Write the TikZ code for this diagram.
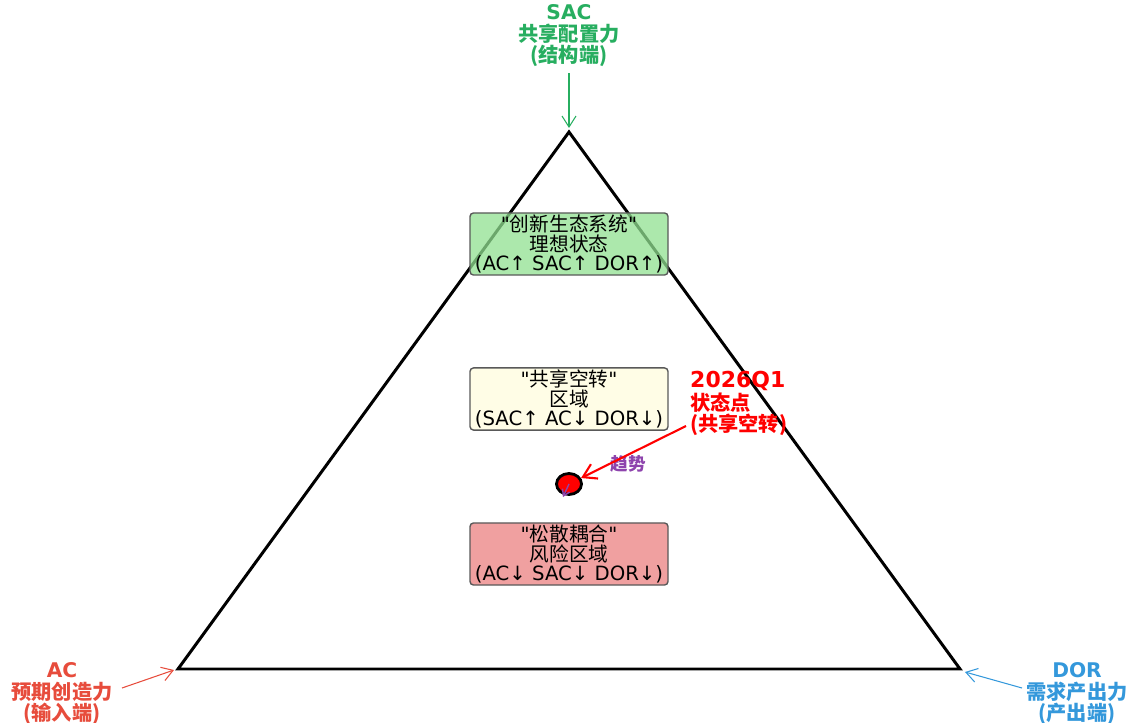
\documentclass[tikz,border=0pt]{standalone}
\usepackage{fontspec}
\setmainfont{DejaVu Sans}
\newfontfamily\cjk{Noto Sans CJK SC}
\usetikzlibrary{positioning,arrows.meta,shapes}
\definecolor{sacgreen}{HTML}{27AE60}
\definecolor{acred}{HTML}{E74C3C}
\definecolor{dorblue}{HTML}{3498DB}
\definecolor{trendpurple}{HTML}{8E44AD}
\definecolor{goodfill}{HTML}{90E090}
\definecolor{idlefill}{HTML}{FFFDE6}
\definecolor{riskfill}{HTML}{F0A0A0}
\tikzstyle{zonebox}=[rectangle, rounded corners=2pt, draw=black!65, thick, minimum width=39.6mm, minimum height=12mm, inner sep=1pt, text centered, align=center, font=\fontsize{11.2}{11.2}\selectfont]
\tikzstyle{endlabel}=[align=center, font=\bfseries\fontsize{11.5}{12.2}\selectfont]
\tikzstyle{endarrow}=[-{Straight Barb[length=2.2mm,width=2.8mm]}, semithick]
\tikzstyle{line}=[-, line width=1.7pt, line join=miter]

\begin{document}
\begin{tikzpicture}[x=0.2mm, y=-0.2mm]

    \useasboundingbox (0,0) rectangle (1133,723);

% corners of the triangle
    \coordinate (top) at (569,132);
    \coordinate (left) at (178,669);
    \coordinate (right) at (960,669);

    \draw[line] (top) -- (left) -- (right) -- cycle;

% end labels
    \node (sac) [endlabel, text=sacgreen] at (569,36) {SAC\\ \cjk 共享配置力\\ \cjk (结构端)};
    \node (ac) [endlabel, text=acred] at (62,694) {AC\\ \cjk 预期创造力\\ \cjk (输入端)};
    \node (dor) [endlabel, text=dorblue] at (1077,694) {DOR\\ \cjk 需求产出力\\ \cjk (产出端)};

    \coordinate (sactip) at (569,128);
    \coordinate (actip) at (174,670);
    \coordinate (dortip) at (965,672);
    \coordinate (acstart) at (122,688);
    \coordinate (dorstart) at (1022,688);

    \draw[endarrow, sacgreen] (sac.south) -- (sactip);
    \draw[endarrow, acred] (acstart) -- (actip);
    \draw[endarrow, dorblue] (dorstart) -- (dortip);

% zones
    \node (ideal) [zonebox, fill=goodfill, fill opacity=0.75, text opacity=1] at (569,244)
        {\textquotedbl{\cjk 创新生态系统}\textquotedbl\\ {\cjk 理想状态}\\ (AC↑ SAC↑ DOR↑)};
    \node (idle) [zonebox, fill=idlefill] at (569,399)
        {\textquotedbl{\cjk 共享空转}\textquotedbl\\ {\cjk 区域}\\ (SAC↑ AC↓ DOR↓)};
    \node (loose) [zonebox, fill=riskfill] at (569,554)
        {\textquotedbl{\cjk 松散耦合}\textquotedbl\\ {\cjk 风险区域}\\ (AC↓ SAC↓ DOR↓)};

% state point
    \node (pt) [ellipse, draw, line width=1.6pt, fill=red, minimum width=5mm, minimum height=4.2mm, inner sep=0pt] at (569,484) {};
    \node (q1) [anchor=north west, align=left, text=red, font=\bfseries\fontsize{11.5}{10}\selectfont] at (684,365)
        {{\fontsize{12.5}{10}\selectfont 2026Q1}\\ \cjk 状态点\\ \cjk (共享空转)};
    \node (trend) [text=trendpurple, font=\cjk\bfseries\fontsize{10}{10}\selectfont] at (628,464) {趋势};

    \coordinate (q1start) at (686,426);
    \coordinate (trendtip) at (563,497);

    \draw[-{Straight Barb[length=2.6mm,width=3.2mm]}, red, line width=1.2pt] (q1start) -- (pt);
    \draw[-{Straight Barb[length=1.2mm,width=1.6mm]}, trendpurple, thick] (pt.center) -- (trendtip);

\end{tikzpicture}
\end{document}
